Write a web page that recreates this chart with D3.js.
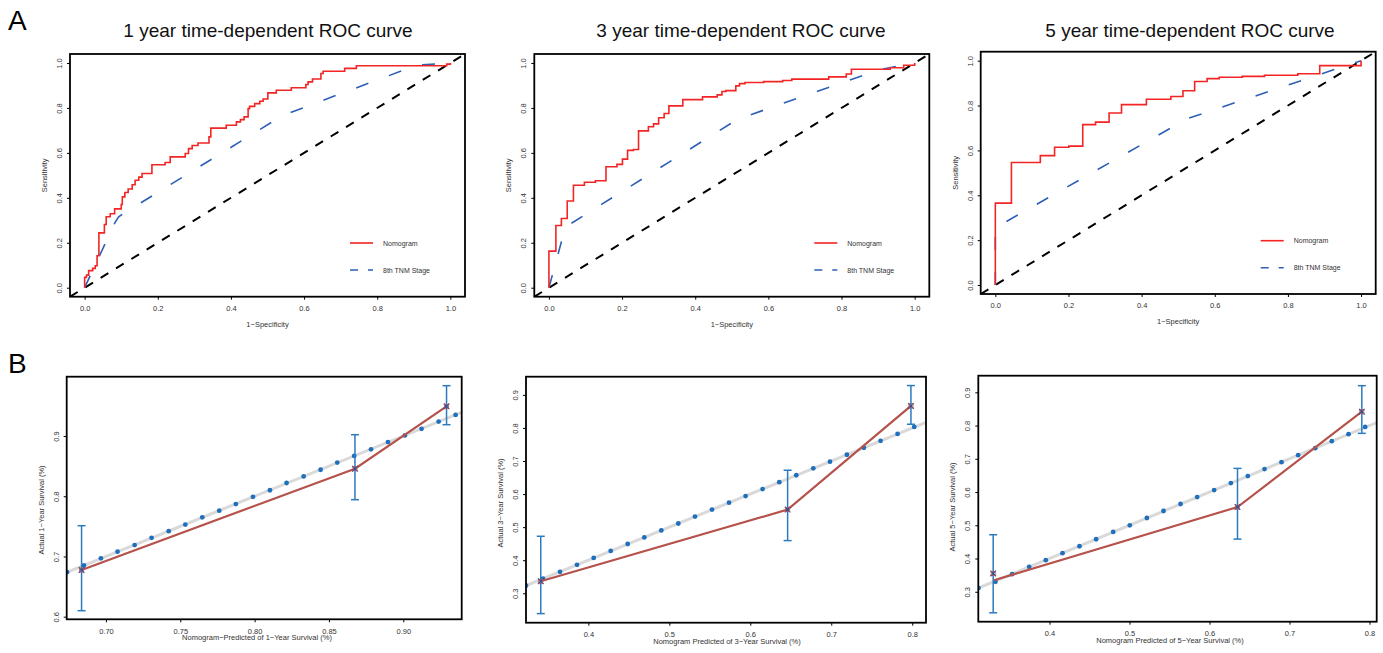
<!DOCTYPE html>
<html>
<head>
<meta charset="utf-8">
<script src="https://cdn.jsdelivr.net/npm/d3@7"></script>
<style>
  body { margin: 0; background: #fff; }
  text { font-family: "Liberation Sans", Arial, sans-serif; }
</style>
</head>
<body>
<script>
// ---- ROC data (1 - specificity, sensitivity) ----
var roc1NomFpr = [0, 0, 0.005, 0.011, 0.011, 0.022, 0.029, 0.034, 0.039, 0.054, 0.059, 0.070, 0.082, 0.100, 0.103, 0.110, 0.119, 0.130, 0.138, 0.148, 0.157, 0.184, 0.220, 0.234, 0.275, 0.284, 0.294, 0.310, 0.340, 0.345, 0.387, 0.415, 0.426, 0.436, 0.447, 0.451, 0.465, 0.479, 0.488, 0.501, 0.524, 0.565, 0.605, 0.611, 0.623, 0.646, 0.652, 0.711, 0.743, 0.990, 1.0];
var roc1NomTpr = [0, 0.046, 0.056, 0.064, 0.076, 0.086, 0.098, 0.142, 0.244, 0.281, 0.316, 0.329, 0.351, 0.370, 0.404, 0.424, 0.439, 0.458, 0.478, 0.492, 0.508, 0.547, 0.557, 0.582, 0.597, 0.619, 0.633, 0.644, 0.671, 0.710, 0.723, 0.738, 0.748, 0.760, 0.797, 0.807, 0.819, 0.830, 0.840, 0.867, 0.879, 0.890, 0.904, 0.916, 0.929, 0.953, 0.963, 0.976, 0.988, 0.995, 1.0];
var roc1TnmFpr = [0, 0.083, 0.093, 0.109, 0.542, 0.908, 1];
var roc1TnmTpr = [0, 0.290, 0.315, 0.333, 0.767, 0.990, 1];

var roc3NomFpr = [0, 0, 0.019, 0.034, 0.050, 0.067, 0.097, 0.127, 0.156, 0.186, 0.201, 0.215, 0.231, 0.245, 0.272, 0.286, 0.300, 0.315, 0.328, 0.366, 0.420, 0.460, 0.473, 0.484, 0.511, 0.521, 0.536, 0.587, 0.639, 0.664, 0.765, 0.813, 0.827, 0.933, 0.970, 1.0];
var roc3NomTpr = [0, 0.163, 0.277, 0.308, 0.386, 0.456, 0.469, 0.476, 0.538, 0.549, 0.572, 0.611, 0.615, 0.698, 0.716, 0.729, 0.756, 0.775, 0.809, 0.837, 0.849, 0.858, 0.873, 0.877, 0.898, 0.908, 0.913, 0.917, 0.922, 0.928, 0.938, 0.951, 0.972, 0.979, 0.990, 1.0];
var roc3TnmFpr = [0, 0.045, 0.515, 0.905, 1];
var roc3TnmTpr = [0, 0.270, 0.749, 0.971, 1];

var roc5NomFpr = [0, 0, 0.044, 0.123, 0.162, 0.201, 0.239, 0.274, 0.311, 0.345, 0.413, 0.480, 0.513, 0.545, 0.579, 0.612, 0.675, 0.736, 0.827, 0.887, 1.0, 1.0];
var roc5NomTpr = [0, 0.365, 0.546, 0.577, 0.614, 0.619, 0.715, 0.726, 0.767, 0.804, 0.828, 0.840, 0.866, 0.907, 0.920, 0.926, 0.930, 0.935, 0.942, 0.978, 0.978, 1.0];
var roc5TnmFpr = [0, 0, 0.524, 1];
var roc5TnmTpr = [0, 0.255, 0.741, 1];

var rocTicks = [0, 0.2, 0.4, 0.6, 0.8, 1.0];
var rocLegend = ["Nomogram", "8th TNM Stage"];

// ---- calibration data ----
var cal1DotX = [0.6738, 0.6852, 0.6966, 0.7078, 0.7193, 0.7307, 0.7422, 0.7534, 0.7648, 0.7762, 0.7874, 0.7989, 0.8103, 0.8215, 0.8330, 0.8444, 0.8556, 0.8670, 0.8783, 0.8897, 0.9011, 0.9123, 0.9238, 0.9352];
var cal1DotY = [0.674, 0.685, 0.697, 0.708, 0.719, 0.731, 0.742, 0.753, 0.765, 0.776, 0.787, 0.799, 0.810, 0.822, 0.833, 0.844, 0.856, 0.867, 0.878, 0.890, 0.901, 0.912, 0.924, 0.935];
var cal1Pred = [0.6836, 0.8675, 0.9291];
var cal1Line = [0.6775, 0.8458, 0.9493];
var cal1Obs  = [0.6775, 0.8458, 0.9493];
var cal1Lo   = [0.6100, 0.7943, 0.9188];
var cal1Hi   = [0.7511, 0.9022, 0.9836];
var cal1XTicks = [0.70, 0.75, 0.80, 0.85, 0.90];
var cal1YTicks = [0.6, 0.7, 0.8, 0.9];

var cal3DotX = [0.3230, 0.3440, 0.3650, 0.3860, 0.4066, 0.4276, 0.4486, 0.4691, 0.4901, 0.5111, 0.5317, 0.5527, 0.5737, 0.5942, 0.6152, 0.6358, 0.6568, 0.6778, 0.6984, 0.7193, 0.7403, 0.7609, 0.7819, 0.8025];
var cal3DotY = [0.323, 0.344, 0.365, 0.386, 0.407, 0.428, 0.449, 0.469, 0.490, 0.511, 0.532, 0.553, 0.574, 0.594, 0.615, 0.636, 0.657, 0.678, 0.698, 0.719, 0.740, 0.761, 0.782, 0.803];
var cal3Pred = [0.3412, 0.6461, 0.7984];
var cal3Line = [0.3363, 0.5531, 0.8667];
var cal3Obs  = [0.3363, 0.5531, 0.8667];
var cal3Lo   = [0.2385, 0.4593, 0.8112];
var cal3Hi   = [0.4724, 0.6721, 0.9282];
var cal3XTicks = [0.4, 0.5, 0.6, 0.7, 0.8];
var cal3YTicks = [0.3, 0.4, 0.5, 0.6, 0.7, 0.8, 0.9];

var cal5DotX = [0.3113, 0.3325, 0.3533, 0.3746, 0.3954, 0.4163, 0.4375, 0.4583, 0.4796, 0.5004, 0.5217, 0.5425, 0.5638, 0.5846, 0.6058, 0.6267, 0.6479, 0.6688, 0.6900, 0.7108, 0.7321, 0.7529, 0.7738, 0.7946];
var cal5DotY = [0.311, 0.330, 0.353, 0.375, 0.395, 0.416, 0.437, 0.458, 0.480, 0.500, 0.522, 0.543, 0.564, 0.585, 0.606, 0.627, 0.648, 0.669, 0.690, 0.711, 0.732, 0.753, 0.774, 0.796];
var cal5Pred = [0.3296, 0.6350, 0.7904];
var cal5Line = [0.3341, 0.5548, 0.8418];
var cal5Obs  = [0.3550, 0.5548, 0.8418];
var cal5Lo   = [0.2368, 0.4585, 0.7766];
var cal5Hi   = [0.4716, 0.6712, 0.9200];
var cal5XTicks = [0.4, 0.5, 0.6, 0.7, 0.8];
var cal5YTicks = [0.3, 0.4, 0.5, 0.6, 0.7, 0.8, 0.9];

var svg = d3.select("body").append("svg")
    .attr("width", 1383)
    .attr("height", 653);

svg.append("rect").attr("width", 1383).attr("height", 653).attr("fill", "#fff");

var clipId = 0;

// panel letters
svg.append("text").attr("x", 8).attr("y", 30).style("font-size", "28px").text("A");
svg.append("text").attr("x", 8).attr("y", 373).style("font-size", "28px").text("B");

function styleAxis(g, rotate) {
  g.select(".domain").remove();
  g.selectAll("line").attr("stroke", "#000").attr("stroke-width", 1);
  g.selectAll("text").style("font-size", "7.5px").attr("fill", "#333");
  if (rotate) {
    g.selectAll("text")
        .attr("x", 0).attr("dy", 0)
        .attr("text-anchor", "middle")
        .attr("transform", "translate(-8,0) rotate(-90)");
  } else {
    g.selectAll("text").attr("y", 9);
  }
}

function rocPanel(p) {
  var g = svg.append("g");
  var x = d3.scaleLinear().domain([-0.04, 1.04]).range([p.left, p.right]);
  var y = d3.scaleLinear().domain([-0.04, 1.04]).range([p.bottom, p.top]);

  var id = "clip" + (clipId++);
  g.append("clipPath").attr("id", id).append("rect")
      .attr("x", p.left).attr("y", p.top)
      .attr("width", p.right - p.left).attr("height", p.bottom - p.top);
  var inner = g.append("g").attr("clip-path", "url(#" + id + ")");

  // reference diagonal
  inner.append("line")
      .attr("x1", x(-0.04)).attr("y1", y(-0.04))
      .attr("x2", x(1.04)).attr("y2", y(1.04))
      .attr("stroke", "#000").attr("stroke-width", 2)
      .attr("stroke-dasharray", "9,9");

  // TNM stage curve
  var tnm = p.tnmFpr.map(function(d, i) { return [d, p.tnmTpr[i]]; });
  inner.append("path")
      .attr("d", d3.line().x(function(d) { return x(d[0]); }).y(function(d) { return y(d[1]); })(tnm))
      .attr("fill", "none").attr("stroke", "#2d5fb5").attr("stroke-width", 1.6)
      .attr("stroke-dasharray", "13,22");

  // nomogram curve
  var nom = p.nomFpr.map(function(d, i) { return [d, p.nomTpr[i]]; });
  inner.append("path")
      .attr("d", d3.line().curve(d3.curveStepAfter)
          .x(function(d) { return x(d[0]); }).y(function(d) { return y(d[1]); })(nom))
      .attr("fill", "none").attr("stroke", "#f22424").attr("stroke-width", 1.6);

  // box
  g.append("rect")
      .attr("x", p.left).attr("y", p.top)
      .attr("width", p.right - p.left).attr("height", p.bottom - p.top)
      .attr("fill", "none").attr("stroke", "#000").attr("stroke-width", 1.8);

  // axes
  g.append("g").attr("transform", "translate(0," + p.bottom + ")")
      .call(d3.axisBottom(x).tickValues(rocTicks).tickSize(3).tickFormat(d3.format(".1f")))
      .call(styleAxis, false);
  g.append("g").attr("transform", "translate(" + p.left + ",0)")
      .call(d3.axisLeft(y).tickValues(rocTicks).tickSize(3).tickFormat(d3.format(".1f")))
      .call(styleAxis, true);

  // axis titles
  g.append("text")
      .attr("x", (p.left + p.right) / 2).attr("y", p.bottom + 30)
      .attr("text-anchor", "middle").style("font-size", "7.5px").attr("fill", "#333")
      .text("1\u2212Specificity");
  g.append("text")
      .attr("transform", "translate(" + (p.left - 23) + "," + ((p.top + p.bottom) / 2) + ") rotate(-90)")
      .attr("text-anchor", "middle").style("font-size", "7.5px").attr("fill", "#333")
      .text("Sensitivity");

  // title
  svg.append("text")
      .attr("x", p.titleX).attr("y", 37)
      .attr("text-anchor", "middle").style("font-size", "19px").attr("fill", "#111")
      .text(p.title);

  // legend
  var lx = p.left + 280, ly = p.top + 189;
  g.append("line").attr("x1", lx).attr("x2", lx + 23).attr("y1", ly).attr("y2", ly)
      .attr("stroke", "#f22424").attr("stroke-width", 1.6);
  g.append("line").attr("x1", lx).attr("x2", lx + 23).attr("y1", ly + 27).attr("y2", ly + 27)
      .attr("stroke", "#2d5fb5").attr("stroke-width", 1.6).attr("stroke-dasharray", "8,10");
  g.selectAll(".leg").data(rocLegend).enter().append("text")
      .attr("x", lx + 33).attr("y", function(d, i) { return ly + 2.5 + i * 27; })
      .style("font-size", "7px").attr("fill", "#333")
      .text(function(d) { return d; });
}

function calPanel(p) {
  var g = svg.append("g");
  var x = d3.scaleLinear().domain(p.xDom).range([p.left, p.right]);
  var y = d3.scaleLinear().domain(p.yDom).range([p.bottom, p.top]);

  var id = "clip" + (clipId++);
  g.append("clipPath").attr("id", id).append("rect")
      .attr("x", p.left).attr("y", p.top)
      .attr("width", p.right - p.left).attr("height", p.bottom - p.top);
  var inner = g.append("g").attr("clip-path", "url(#" + id + ")");

  // ideal line
  inner.append("line")
      .attr("x1", x(p.xDom[0])).attr("y1", y(p.xDom[0]))
      .attr("x2", x(p.xDom[1])).attr("y2", y(p.xDom[1]))
      .attr("stroke", "#d9d9d9").attr("stroke-width", 3);

  inner.selectAll(".dot").data(p.dotX).enter().append("circle")
      .attr("cx", function(d) { return x(d); })
      .attr("cy", function(d, i) { return y(p.dotY[i]); })
      .attr("r", 2.4).attr("fill", "#1f6fbd");

  // observed line
  var pts = p.pred.map(function(d, i) { return [d, p.line[i]]; });
  inner.append("path")
      .attr("d", d3.line().x(function(d) { return x(d[0]); }).y(function(d) { return y(d[1]); })(pts))
      .attr("fill", "none").attr("stroke", "#b5524b").attr("stroke-width", 2.2);

  // error bars
  var eb = g.selectAll(".eb").data(p.pred).enter().append("g")
      .attr("stroke", "#2c7bbf").attr("stroke-width", 1.5);
  eb.append("line")
      .attr("x1", function(d) { return x(d); }).attr("x2", function(d) { return x(d); })
      .attr("y1", function(d, i) { return y(p.lo[i]); }).attr("y2", function(d, i) { return y(p.hi[i]); });
  eb.append("line")
      .attr("x1", function(d) { return x(d) - 4; }).attr("x2", function(d) { return x(d) + 4; })
      .attr("y1", function(d, i) { return y(p.lo[i]); }).attr("y2", function(d, i) { return y(p.lo[i]); });
  eb.append("line")
      .attr("x1", function(d) { return x(d) - 4; }).attr("x2", function(d) { return x(d) + 4; })
      .attr("y1", function(d, i) { return y(p.hi[i]); }).attr("y2", function(d, i) { return y(p.hi[i]); });

  // markers
  g.selectAll(".mk").data(p.pred).enter().append("path")
      .attr("transform", function(d, i) { return "translate(" + x(d) + "," + y(p.obs[i]) + ")"; })
      .attr("d", d3.symbol().type(d3.symbolTimes).size(22))
      .attr("fill", "none").attr("stroke", "#2b4fa0").attr("stroke-width", 1.3);
  g.selectAll(".sq").data(p.pred).enter().append("rect")
      .attr("x", function(d) { return x(d) - 2; })
      .attr("y", function(d, i) { return y(p.obs[i]) - 2; })
      .attr("width", 4).attr("height", 4)
      .attr("fill", "none").attr("stroke", "#b5524b").attr("stroke-width", 0.8);

  // box
  g.append("rect")
      .attr("x", p.left).attr("y", p.top)
      .attr("width", p.right - p.left).attr("height", p.bottom - p.top)
      .attr("fill", "none").attr("stroke", "#000").attr("stroke-width", 1.8);

  g.append("g").attr("transform", "translate(0," + p.bottom + ")")
      .call(d3.axisBottom(x).tickValues(p.xTicks).tickSize(3).tickFormat(d3.format(p.xFmt)))
      .call(styleAxis, false);
  g.append("g").attr("transform", "translate(" + p.left + ",0)")
      .call(d3.axisLeft(y).tickValues(p.yTicks).tickSize(3).tickFormat(d3.format(".1f")))
      .call(styleAxis, true);

  g.append("text")
      .attr("x", p.xTitleX).attr("y", p.bottom + 21)
      .attr("text-anchor", "middle").style("font-size", "7.5px").attr("fill", "#333")
      .text(p.xTitle);
  g.append("text")
      .attr("transform", "translate(" + (p.left - 23) + "," + p.yTitleY + ") rotate(-90)")
      .attr("text-anchor", "middle").style("font-size", "7.5px").attr("fill", "#333")
      .text(p.yTitle);
}

rocPanel({left: 70, right: 465, top: 54, bottom: 296.7, titleX: 268,
  title: "1 year time-dependent ROC curve",
  nomFpr: roc1NomFpr, nomTpr: roc1NomTpr, tnmFpr: roc1TnmFpr, tnmTpr: roc1TnmTpr});
rocPanel({left: 534.3, right: 929.3, top: 54, bottom: 296.7, titleX: 741,
  title: "3 year time-dependent ROC curve",
  nomFpr: roc3NomFpr, nomTpr: roc3NomTpr, tnmFpr: roc3TnmFpr, tnmTpr: roc3TnmTpr});
rocPanel({left: 980.7, right: 1375.7, top: 51.7, bottom: 294, titleX: 1190,
  title: "5 year time-dependent ROC curve",
  nomFpr: roc5NomFpr, nomTpr: roc5NomTpr, tnmFpr: roc5TnmFpr, tnmTpr: roc5TnmTpr});

calPanel({left: 66.7, right: 461.7, top: 376.7, bottom: 619.3,
  xDom: [0.6736, 0.9393], yDom: [0.5957, 0.9985],
  dotX: cal1DotX, dotY: cal1DotY, pred: cal1Pred, line: cal1Line, obs: cal1Obs, lo: cal1Lo, hi: cal1Hi,
  xTicks: cal1XTicks, yTicks: cal1YTicks, xFmt: ".2f",
  xTitle: "Nomogram\u2212Predicted of 1\u2212Year Survival (%)", xTitleX: 257,
  yTitle: "Actual 1\u2212Year Survival (%)", yTitleY: 510});
calPanel({left: 526, right: 926, top: 376.7, bottom: 622.7,
  xDom: [0.323, 0.817], yDom: [0.211, 0.955],
  dotX: cal3DotX, dotY: cal3DotY, pred: cal3Pred, line: cal3Line, obs: cal3Obs, lo: cal3Lo, hi: cal3Hi,
  xTicks: cal3XTicks, yTicks: cal3YTicks, xFmt: ".1f",
  xTitle: "Nomogram Predicted of 3\u2212Year Survival (%)", xTitleX: 727,
  yTitle: "Actual 3\u2212Year Survival (%)", yTitleY: 503});
calPanel({left: 978.3, right: 1376.7, top: 375.7, bottom: 621.7,
  xDom: [0.311, 0.809], yDom: [0.21, 0.95],
  dotX: cal5DotX, dotY: cal5DotY, pred: cal5Pred, line: cal5Line, obs: cal5Obs, lo: cal5Lo, hi: cal5Hi,
  xTicks: cal5XTicks, yTicks: cal5YTicks, xFmt: ".1f",
  xTitle: "Nomogram Predicted of 5\u2212Year Survival (%)", xTitleX: 1170,
  yTitle: "Actual 5\u2212Year Survival (%)", yTitleY: 507});
</script>
</body>
</html>
